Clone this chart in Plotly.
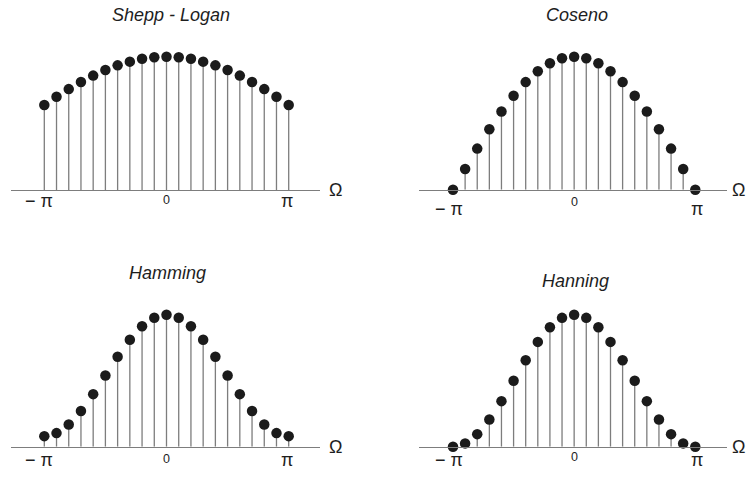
import numpy as np
import plotly.graph_objects as go

W, H = 746, 478

# Sample index k (Omega = k*pi/10), 21 samples from -pi to pi
k = list(range(-10, 11))

# Window amplitudes for k = 0..10 (symmetric about Omega = 0)
shepp_logan_half = [1.00, 0.996, 0.984, 0.963, 0.935, 0.900, 0.858, 0.810, 0.757, 0.699, 0.637]
coseno_half = [1.00, 0.988, 0.951, 0.891, 0.809, 0.707, 0.588, 0.454, 0.309, 0.156, 0.0]
hamming_half = [1.00, 0.977, 0.912, 0.810, 0.682, 0.540, 0.398, 0.270, 0.168, 0.103, 0.080]
hanning_half = [1.00, 0.976, 0.905, 0.794, 0.655, 0.500, 0.345, 0.206, 0.095, 0.025, 0.0]

titles = ["Shepp - Logan", "Coseno", "Hamming", "Hanning"]


def full(half):
    return half[::-1] + half[1:]


series = [full(shepp_logan_half), full(coseno_half), full(hamming_half), full(hanning_half)]

# pixel geometry of each panel: axis line extent, first/last stem, baseline, unit height,
# title position, label rows, omega label position
panels = [
    dict(x0=11, x1=320, s0=44.3, s1=288.7, base=190.0, unit=133.3, tx=171, ty=15.5,
         piy=201, zy=200, mshift=-5, pshift=-1.5, ox=335),
    dict(x0=418.7, x1=727.3, s0=453.0, s1=695.3, base=189.7, unit=133.0, tx=576.5, ty=15.5,
         piy=208.5, zy=202.5, mshift=-4, pshift=1.5, ox=738),
    dict(x0=11, x1=320, s0=44.3, s1=288.7, base=446.7, unit=132.0, tx=167.5, ty=273,
         piy=460, zy=459, mshift=-5, pshift=-1.5, ox=335),
    dict(x0=418.7, x1=727.3, s0=453.0, s1=695.3, base=446.7, unit=132.0, tx=575.5, ty=281,
         piy=460, zy=456.5, mshift=-4, pshift=1.5, ox=738),
]

fig = go.Figure()
annotations = []
STEM = "#7d7d7d"
DOT = "#1b1b1b"
TXT = "#1e1e1e"
FONT = "Liberation Sans, Arial, sans-serif"
step = np.pi / 10

for i, (p, vals, title) in enumerate(zip(panels, series, titles)):
    n = "" if i == 0 else str(i + 1)
    xa, ya = "x" + n, "y" + n
    sp = (p["s1"] - p["s0"]) / 20.0
    left = (-10 - (p["s0"] - p["x0"]) / sp) * step
    right = (10 + (p["x1"] - p["s1"]) / sp) * step
    ytop = 1.12
    top_px = p["base"] - ytop * p["unit"]

    omega = [kk * step for kk in k]

    # stems
    sx, sy = [], []
    for o, v in zip(omega, vals):
        sx += [o, o, None]
        sy += [0, v, None]
    fig.add_trace(go.Scatter(x=sx, y=sy, mode="lines", xaxis=xa, yaxis=ya,
                             line=dict(color=STEM, width=1.3), hoverinfo="skip",
                             showlegend=False))
    # markers
    fig.add_trace(go.Scatter(x=omega, y=vals, mode="markers", xaxis=xa, yaxis=ya,
                             marker=dict(color=DOT, size=10.5, line=dict(width=0)),
                             cliponaxis=False, showlegend=False))

    fig.update_layout({
        "xaxis" + n: dict(domain=[p["x0"] / W, p["x1"] / W], range=[left, right],
                          showgrid=False, zeroline=False, showticklabels=False,
                          ticks="", showline=True, linecolor=STEM, linewidth=1.3,
                          anchor=ya, fixedrange=True),
        "yaxis" + n: dict(domain=[1 - p["base"] / H, 1 - top_px / H], range=[0, ytop],
                          visible=False, anchor=xa, fixedrange=True),
    })

    common = dict(showarrow=False, xanchor="center", yanchor="middle")
    annotations.append(dict(x=p["tx"] / W, y=1 - p["ty"] / H, xref="paper", yref="paper",
                            text="<i>" + title + "</i>",
                            font=dict(family=FONT, size=18, color=TXT), **common))
    annotations.append(dict(x=-np.pi, y=1 - p["piy"] / H, xref=xa, yref="paper",
                            text="\u2212 \u03c0", xshift=p["mshift"],
                            font=dict(family=FONT, size=18, color=TXT), **common))
    annotations.append(dict(x=np.pi, y=1 - p["piy"] / H, xref=xa, yref="paper",
                            text="\u03c0", xshift=p["pshift"],
                            font=dict(family=FONT, size=18, color=TXT), **common))
    annotations.append(dict(x=0, y=1 - p["zy"] / H, xref=xa, yref="paper",
                            text="0",
                            font=dict(family=FONT, size=12.5, color=TXT), **common))
    annotations.append(dict(x=p["ox"] / W, y=1 - p["base"] / H,
                            xref="paper", yref="paper", text="\u03a9",
                            font=dict(family=FONT, size=18, color=TXT), **common))

fig.update_layout(width=W, height=H, margin=dict(l=0, r=0, t=0, b=0),
                  paper_bgcolor="white", plot_bgcolor="white",
                  annotations=annotations, showlegend=False)

fig.write_html("out.html")
